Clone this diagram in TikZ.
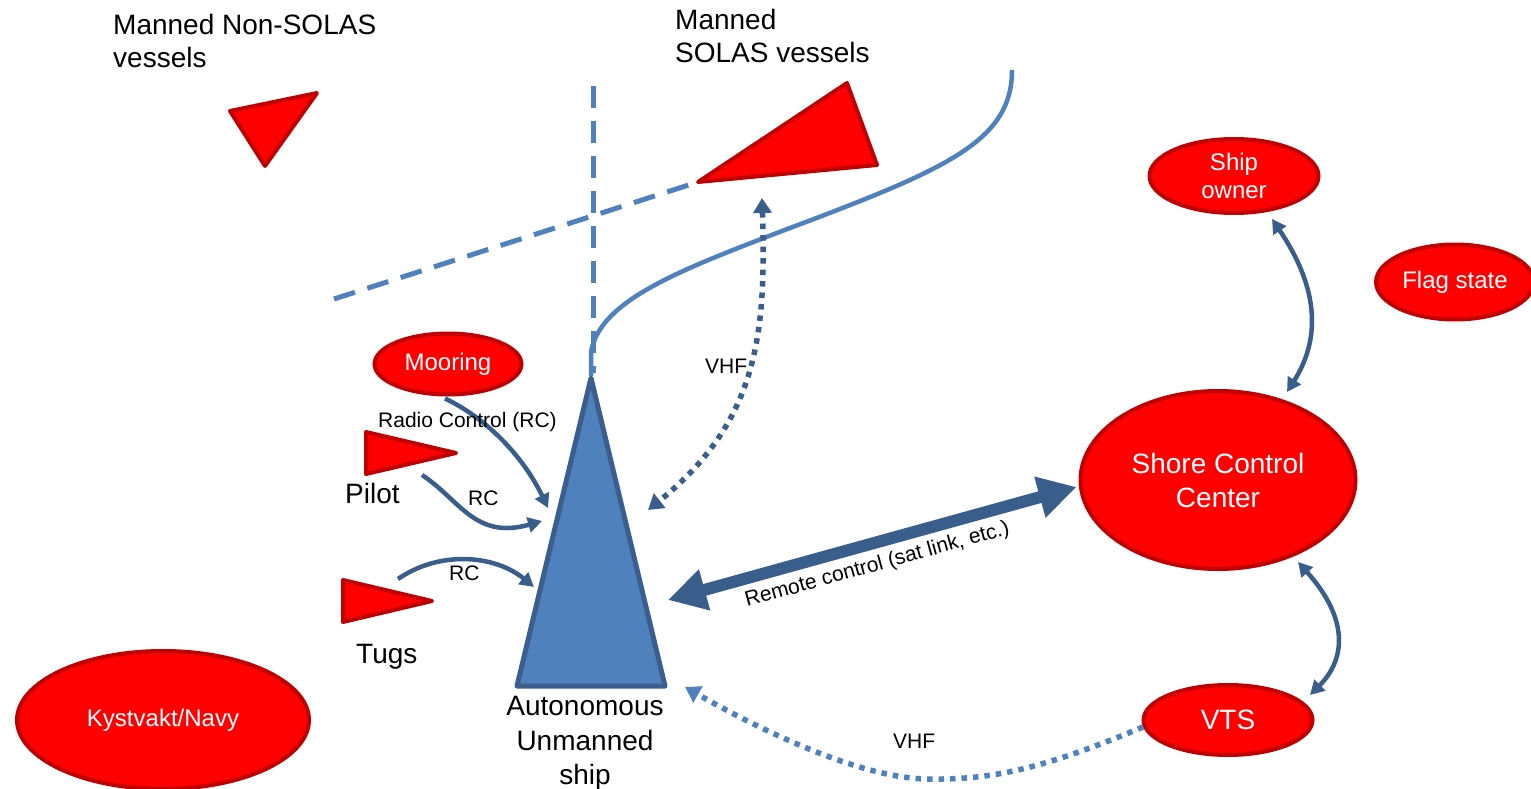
\documentclass[tikz,border=0pt]{standalone}
\usepackage{fontspec}
\setmainfont{Liberation Sans}
\usetikzlibrary{arrows.meta,calc,shapes.geometric}

\definecolor{partyred}{HTML}{FF0000}
\definecolor{rimred}{HTML}{C00000}
\definecolor{hullblue}{HTML}{4F81BD}
\definecolor{hullrim}{HTML}{3A5F8E}
\definecolor{linkblue}{HTML}{3A5E8C}

\tikzset{
  party/.style={ellipse, draw=rimred, fill=partyred, line width=4pt,
    text=white, inner sep=0pt, align=center},
  vessel/.style={draw=rimred, fill=partyred, line width=4pt, line join=round},
  hull/.style={draw=hullrim, fill=hullblue, line width=5pt, line join=round},
  lane/.style={draw=hullblue, line width=5pt, dash pattern=on 22pt off 13pt},
  track/.style={draw=hullblue, line width=4.5pt},
  link/.style={draw=linkblue, line width=4.5pt,
    arrows={-Triangle[length=14pt,width=15pt]}},
  dlink/.style={draw=linkblue, line width=4.5pt,
    arrows={Triangle[length=14pt,width=15pt]-Triangle[length=14pt,width=15pt]}},
  radiolink/.style={line width=5.5pt, dash pattern=on 5.5pt off 6pt},
  bigtext/.style={font=\fontsize{28}{33}\selectfont},
  smalltext/.style={font=\fontsize{21}{25}\selectfont},
}

\begin{document}
\begin{tikzpicture}[x=1pt,y=-1pt]
  \fill[white] (0,0) rectangle (1531,789);
  \useasboundingbox (0,0) rectangle (1531,789);

  % traffic lanes
  \draw[lane] (593,86) -- (593,373);
  \draw[lane] (334,299) -- (698,182);
  \draw[track] (591,376) -- (591,352)
    .. controls (600,300) and (680,270) .. (790,228)
    .. controls (950,168) and (1012,140) .. (1012,70);

  % other vessels
  \draw[vessel] (230,111) -- (317,93) -- (265,166) -- cycle;
  \draw[vessel] (698,182) -- (847,83) -- (877,165) -- cycle;
  \draw[vessel] (366,432) -- (456,453) -- (366,474) -- cycle;
  \draw[vessel] (343,580) -- (432,601) -- (343,622) -- cycle;

  % the autonomous ship
  \coordinate (shipTip) at (591,378);
  \coordinate (shipBL) at (517,686);
  \coordinate (shipBR) at (665,686);
  \draw[hull] (shipTip) -- (shipBR) -- (shipBL) -- cycle;

  % parties
  \node[party, minimum width=147pt, minimum height=61pt,
        font=\fontsize{24}{28}\selectfont] (mooring) at (448,364) {Mooring};
  \node[party, minimum width=169pt, minimum height=74pt,
        font=\fontsize{24}{28}\selectfont] (owner) at (1234,176) {Ship\\owner};
  \node[party, minimum width=158pt, minimum height=75pt,
        font=\fontsize{24}{28}\selectfont] (flag) at (1455,282) {Flag state};
  \node[party, minimum width=275pt, minimum height=178pt,
        font=\fontsize{28}{34}\selectfont] (shore) at (1218,480) {Shore Control\\Center};
  \node[party, minimum width=169pt, minimum height=70pt,
        font=\fontsize{28}{33}\selectfont] (vts) at (1228,720) {VTS};
  \node[party, minimum width=292pt, minimum height=138pt,
        font=\fontsize{24}{28}\selectfont] (navy) at (163,720) {Kystvakt/Navy};

  % connector ends at the ship and the small craft
  \coordinate (inMoor) at (548,508);
  \coordinate (inPilot) at (542,521);
  \coordinate (inTug) at (534,587);
  \coordinate (inVhfUp) at (648,510);
  \coordinate (inSat) at (668,600);
  \coordinate (inVhfLow) at (685,687);
  \coordinate (pilotOut) at (422,475);
  \coordinate (tugOut) at (398,579);
  \coordinate (vhfTop) at (762,198);

  % radio control links
  \draw[link] ([xshift=-3pt,yshift=-2pt]mooring.south)
    .. controls (490,420) and (525,460) .. (inMoor);
  \draw[link] (pilotOut) .. controls (460,500) and (475,540) .. (inPilot);
  \draw[link] (tugOut) .. controls (440,550) and (495,555) .. (inTug);

  % VHF links
  \draw[draw=linkblue, radiolink,
        arrows={Triangle[length=15pt,width=18pt]-Triangle[length=15pt,width=18pt]}]
    (vhfTop) .. controls (766,330) and (760,420) .. (inVhfUp);
  \draw[draw=hullblue, radiolink, arrows={-Triangle[length=15pt,width=18pt]}]
    ([shift={(-85,7)}]vts.center)
    .. controls (1040,770) and (990,780) .. (927,779)
    .. controls (860,778) and (760,730) .. (inVhfLow);

  % remote control link
  \draw[draw=linkblue, line width=12pt,
        arrows={Triangle[length=38pt,width=40pt]-Triangle[length=38pt,width=40pt]}]
    (inSat) -- ([shift={(-2,7)}]shore.west);

  % shore side links
  \draw[dlink] ([shift={(38,43)}]owner.center)
    .. controls (1320,290) and (1320,340) .. ([shift={(69,-88)}]shore.center);
  \draw[dlink] ([shift={(80,82)}]shore.center)
    .. controls (1350,620) and (1345,660) .. ([shift={(82,-25)}]vts.center);

  % labels
  \node[bigtext, anchor=base west, inner sep=0pt] (tNonSolasA) at (113,35) {Manned Non-SOLAS};
  \node[bigtext, anchor=base west, inner sep=0pt] (tNonSolasB) at (113,68) {vessels};
  \node[bigtext, anchor=base west, inner sep=0pt] (tSolasA) at (675,30) {Manned};
  \node[bigtext, anchor=base west, inner sep=0pt] (tSolasB) at (675,63) {SOLAS vessels};
  \node[bigtext, anchor=base west, inner sep=0pt] (tPilot) at (345,503) {Pilot};
  \node[bigtext, anchor=base west, inner sep=0pt] (tTugs) at (356,663) {Tugs};
  \node[bigtext, anchor=base, inner sep=0pt] (tShipA) at (585,715) {Autonomous};
  \node[bigtext, anchor=base, inner sep=0pt] (tShipB) at (585,750) {Unmanned};
  \node[bigtext, anchor=base, inner sep=0pt] (tShipC) at (585,784) {ship};
  \node[smalltext, anchor=base west, inner sep=0pt] (tRadio) at (378,427) {Radio Control (RC)};
  \node[smalltext, anchor=base west, inner sep=0pt] (tRcPilot) at (468,505) {RC};
  \node[smalltext, anchor=base west, inner sep=0pt] (tRcTug) at (449,580) {RC};
  \node[smalltext, anchor=base west, inner sep=0pt] (tVhfUp) at (705,373) {VHF};
  \node[smalltext, anchor=base west, inner sep=0pt] (tVhfLow) at (893,748) {VHF};
  \node[smalltext, anchor=base west, inner sep=0pt, rotate=15.5] (tRemote) at (747,607)
    {Remote control (sat link, etc.)};
\end{tikzpicture}
\end{document}
